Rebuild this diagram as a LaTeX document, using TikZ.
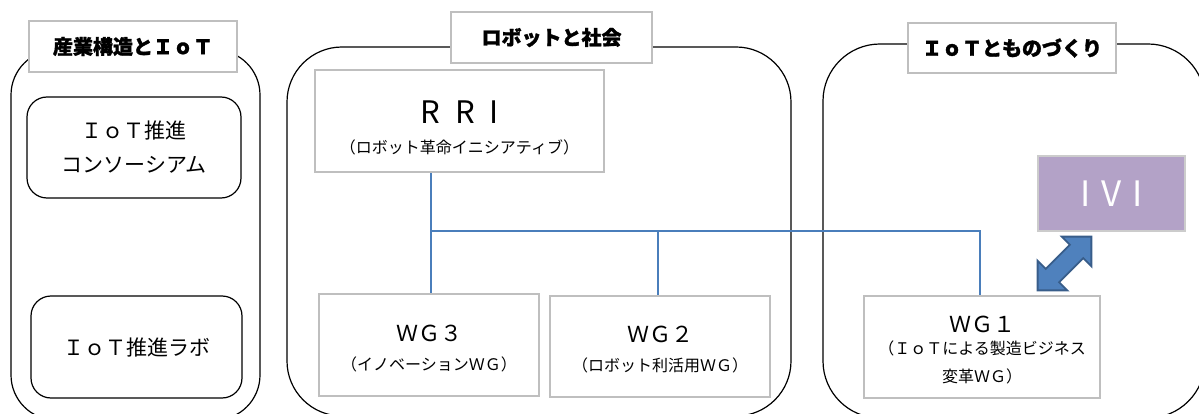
\documentclass[tikz,border=0pt]{standalone}
\usepackage{fontspec}
\setmainfont{Noto Sans CJK JP}
\newfontfamily\titlefont{Noto Sans CJK JP}[BoldFeatures={FakeBold=1.5}]
\usetikzlibrary{calc}
\definecolor{boxgray}{HTML}{BFBFBF}
\definecolor{busblue}{HTML}{4A7EBB}
\definecolor{ivipurple}{HTML}{B3A2C7}
\definecolor{arrowfill}{HTML}{4F81BD}
\definecolor{arrowline}{HTML}{385D8A}
\newcommand{\subsz}{\fontsize{16}{18}\selectfont}
\begin{document}
\begin{tikzpicture}[x=1pt,y=-1pt,
  container/.style={draw=black,line width=1.2pt},
  titlebox/.style={draw=boxgray,line width=2.5pt,fill=white,inner sep=0pt,font=\fontsize{20}{22}\titlefont\bfseries},
  roundbox/.style={draw=black,line width=1.2pt,rounded corners=20pt,inner sep=0pt,align=center,font=\fontsize{21}{34}\selectfont},
  wgbox/.style={draw=boxgray,line width=2.5pt,fill=white,inner sep=0pt,align=center},
  boxtext/.style={inner sep=0pt,align=center},
  bus/.style={draw=busblue,line width=1.2pt}]
\path[use as bounding box] (0,0) rectangle (1199,414);
\clip (0,0) rectangle (1199,414);
% containers
\draw[container,rounded corners=45pt] (11,50) rectangle (260,420);
\draw[container,rounded corners=55pt] (287,47) rectangle (791,416);
\draw[container,rounded corners=57pt] (823,44) rectangle (1205,418);
% titles
\node[titlebox,minimum width=208pt,minimum height=51pt] (t1) at (133,46.5) {産業構造とＩｏＴ};
\node[titlebox,minimum width=201pt,minimum height=51pt] (t2) at (551.5,37.5) {ロボットと社会};
\node[titlebox,minimum width=208pt,minimum height=50pt] (t3) at (1012,48) {ＩｏＴとものづくり};
% left
\node[roundbox,minimum width=214pt,minimum height=101pt] (cons) at (134,147.5) {ＩｏＴ推進\\コンソーシアム};
\node[roundbox,minimum width=211pt,minimum height=102pt] (labo) at (136.5,347) {ＩｏＴ推進ラボ};
% middle
\node[wgbox,minimum width=289pt,minimum height=102pt] (rri) at (459.5,121) {};
\node[boxtext] (rritext) at (459.5,128)
  {{\fontsize{31}{34}\selectfont R\hspace{16pt}R\hspace{14pt}I}\\[15pt]{\subsz （ロボット革命イニシアティブ）}};
\node[wgbox,minimum width=220pt,minimum height=102pt] (wg3) at (429,345) {};
\node[boxtext] (wg3text) at (429,349)
  {{\fontsize{22}{26}\selectfont ＷＧ３}\\[14pt]{\subsz （イノベーションＷＧ）}};
\node[wgbox,minimum width=220pt,minimum height=101pt] (wg2) at (660,346.5) {};
\node[boxtext] (wg2text) at (660,350)
  {{\fontsize{22}{26}\selectfont ＷＧ２}\\[14pt]{\subsz （ロボット利活用ＷＧ）}};
% right
\node[wgbox,fill=ivipurple,draw=boxgray!80,minimum width=147pt,minimum height=75pt,text=white] (ivi) at (1111.5,193.5)
  {\fontsize{35}{40}\selectfont I\hspace{11pt}V\hspace{11pt}I};
\node[wgbox,minimum width=236pt,minimum height=102pt] (wg1) at (982,347) {};
\node[boxtext] (wg1text) at (982,350)
  {{\fontsize{22}{26}\selectfont ＷＧ１}\\[7pt]{\subsz （ＩｏＴによる製造ビジネス}\\[11pt]{\subsz 変革ＷＧ）}};
% bus connectors
\coordinate (j) at (431,231);
\coordinate (m) at (658,231);
\coordinate (k) at (980,231);
\draw[bus] (rri.south -| j) -- (wg3.north -| j);
\draw[bus] (j) -- (k) -- (wg1.north -| k);
\draw[bus] (m) -- (wg2.north -| m);
% double block arrow between IVI and WG1
\begin{scope}[shift={(1064.5,263.5)},rotate=45]
\fill[arrowfill,draw=arrowline,line width=1.8pt,line join=miter]
  (-38,0) -- (-17,21) -- (-17,9.5) -- (17,9.5) -- (17,21) -- (38,0)
  -- (17,-21) -- (17,-9.5) -- (-17,-9.5) -- (-17,-21) -- cycle;
\end{scope}
\end{tikzpicture}
\end{document}
